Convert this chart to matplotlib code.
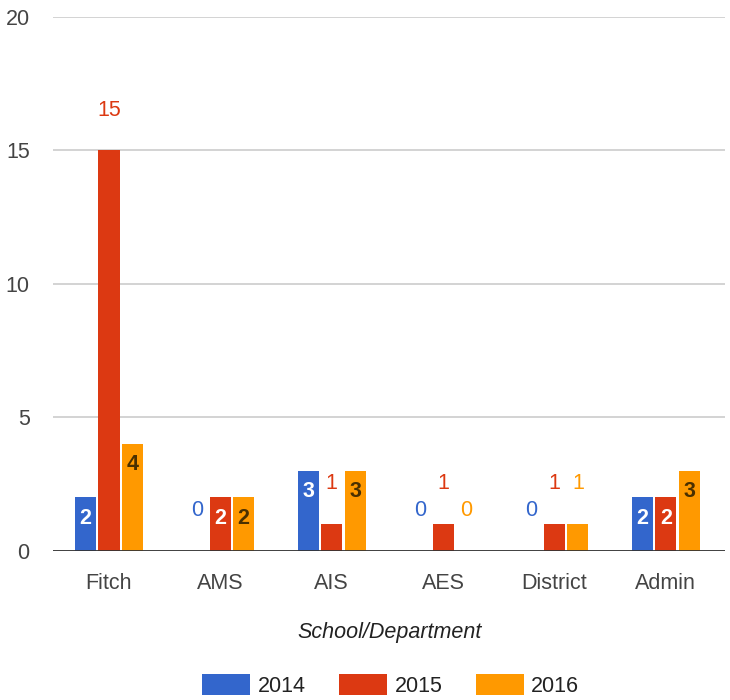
import numpy as np
import matplotlib
matplotlib.use('Agg')
import matplotlib.pyplot as plt
from matplotlib.patches import Patch

plt.rcParams['font.family'] = ['Liberation Sans', 'DejaVu Sans']

# datos
categorias = ['Fitch', 'AMS', 'AIS', 'AES', 'District', 'Admin']
anios = ['2014', '2015', '2016']
v2014 = [2, 0, 3, 0, 0, 2]
v2015 = [15, 2, 1, 1, 1, 2]
v2016 = [4, 2, 3, 0, 1, 3]

colores = ['#3366cc', '#dc3912', '#ff9900']
color_dentro = ['white', 'white', '#4a3000']

fig = plt.figure(figsize=(7.3, 7.0), dpi=100)
ax = fig.add_axes([0.073, 0.213, 0.92, 0.763])

x = np.arange(len(categorias))
ancho = 0.19
paso = 0.21
series = [v2014, v2015, v2016]

fs = 15.5
for k, vals in enumerate(series):
    pos = x + (k - 1) * paso
    ax.bar(pos, vals, width=ancho, color=colores[k], zorder=3)
    for xi, v in zip(pos, vals):
        if 2 <= v < 10:
            # etiqueta dentro de la barra
            ax.annotate(str(v), (xi, v), xytext=(0, -15), textcoords='offset points',
                        ha='center', va='center', fontsize=fs, fontweight='bold',
                        color=color_dentro[k], zorder=4)
        else:
            ax.annotate(str(v), (xi, v), xytext=(0, 29), textcoords='offset points',
                        ha='center', va='center', fontsize=fs, color=colores[k], zorder=4)

ax.set_xlim(-0.5, len(categorias) - 0.47)
ax.set_ylim(0, 20)
ax.set_yticks([0, 5, 10, 15, 20])
ax.grid(axis='y', color='#cccccc', lw=1.2, zorder=0)
ax.axhline(0, color='#333333', lw=2, zorder=5)
for s in ax.spines.values():
    s.set_visible(False)

ax.set_xticks(x)
ax.set_xticklabels(categorias)
ax.tick_params(axis='both', length=0, labelsize=fs, labelcolor='#444444')
ax.tick_params(axis='x', pad=16)
ax.tick_params(axis='y', pad=17)
ax.set_xlabel('School/Department', fontsize=fs, style='italic', color='#222222', labelpad=20)

handles = [Patch(facecolor=c) for c in colores]
fig.legend(handles, anios, loc='center', bbox_to_anchor=(0.535, 0.021), ncol=3,
           frameon=False, fontsize=fs, handlelength=2.23, handleheight=1.16,
           handletextpad=0.35, columnspacing=1.55, labelcolor='#222222')

fig.savefig('out.png', dpi=100)
